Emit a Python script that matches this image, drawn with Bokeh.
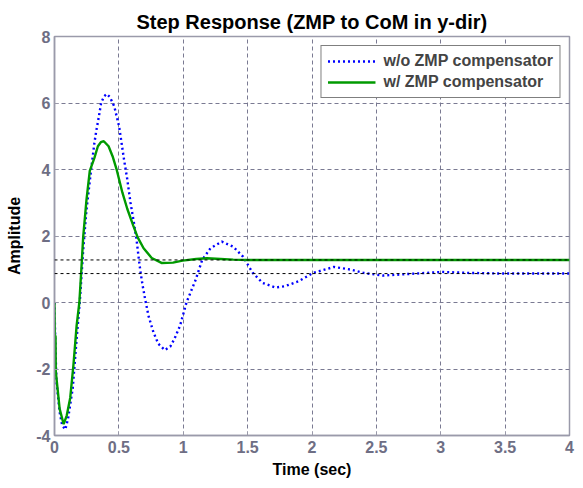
from bokeh.plotting import figure
from bokeh.models import Span, Legend, LegendItem, FixedTicker, Range1d
from bokeh.embed import file_html
from bokeh.resources import INLINE

title_text = "Step Response (ZMP to CoM in y-dir)"
x_label = "Time (sec)"
y_label = "Amplitude"
series_names = ["w/o ZMP compensator", "w/ ZMP compensator"]

# w/o ZMP compensator (blue dotted)
t_wo = [0, 0.005, 0.015, 0.04, 0.06, 0.084, 0.105, 0.142, 0.172, 0.198, 0.223, 0.248,
        0.286, 0.31, 0.324, 0.345, 0.362, 0.385, 0.405, 0.43, 0.464, 0.502, 0.54, 0.565,
        0.59, 0.616, 0.636, 0.654, 0.667, 0.685, 0.704, 0.73, 0.768, 0.806, 0.857, 0.9,
        0.932, 0.975, 1.025, 1.097, 1.147, 1.211, 1.30, 1.388, 1.464, 1.54, 1.616, 1.717,
        1.79, 1.895, 2.01, 2.17, 2.30, 2.40, 2.55, 2.76, 3.01, 3.21, 3.5, 4.0]
y_wo = [0, -1.0, -2.37, -3.3, -3.7, -3.82, -3.5, -2.57, -1.09, 0.1, 1.58, 2.77,
        4.05, 4.8, 5.15, 5.6, 6.0, 6.2, 6.27, 6.18, 5.9, 5.29, 4.3, 3.71,
        3.01, 2.42, 1.93, 1.34, 0.94, 0.5, 0.1, -0.4, -0.89, -1.24, -1.43, -1.32,
        -1.09, -0.7, 0.0, 0.69, 1.28, 1.63, 1.83, 1.68, 1.38, 0.89, 0.59, 0.45,
        0.49, 0.64, 0.89, 1.07, 0.99, 0.89, 0.81, 0.86, 0.92, 0.89, 0.87, 0.87]

# w/ ZMP compensator (green solid)
t_w = [0, 0.003, 0.008, 0.01, 0.04, 0.071, 0.095, 0.122, 0.147, 0.172, 0.193, 0.21,
       0.223, 0.248, 0.274, 0.31, 0.337, 0.36, 0.383, 0.42, 0.451, 0.484, 0.527, 0.565,
       0.611, 0.646, 0.692, 0.755, 0.831, 0.92, 0.995, 1.1, 1.185, 1.29, 1.388, 1.5, 4.0]
y_w = [0, -1.0, -1.0, -2.08, -3.2, -3.66, -3.4, -2.87, -1.88, -0.69, 0.0, 1.09,
       1.98, 3.07, 3.96, 4.35, 4.7, 4.82, 4.85, 4.7, 4.4, 3.98, 3.31, 2.82,
       2.32, 1.96, 1.63, 1.34, 1.19, 1.2, 1.26, 1.31, 1.33, 1.31, 1.29, 1.28, 1.28]

steady_states = [1.28, 0.87]

x_ticks = [0, 0.5, 1, 1.5, 2, 2.5, 3, 3.5, 4]
x_tick_labels = ["0", "0.5", "1", "1.5", "2", "2.5", "3", "3.5", "4"]
y_ticks = [-4, -2, 0, 2, 4, 6, 8]
y_tick_labels = ["-4", "-2", "0", "2", "4", "6", "8"]

FONT = "Liberation Sans"
GRAY = "#6e6e84"
AXIS_GRAY = "#9a9aaa"

p = figure(width=575, height=480, output_backend="svg", toolbar_location=None,
           x_range=Range1d(0, 4), y_range=Range1d(-4, 8),
           min_border_left=54, min_border_right=6, min_border_top=36, min_border_bottom=44)

p.title.text = title_text
p.title.align = "center"
p.title.text_font = FONT
p.title.text_font_size = "20px"
p.title.text_font_style = "bold"
p.title.text_color = "black"
p.title.standoff = 8

p.xaxis.ticker = FixedTicker(ticks=x_ticks)
p.yaxis.ticker = FixedTicker(ticks=y_ticks)
p.xaxis.major_label_overrides = dict(zip(x_ticks, x_tick_labels))
p.yaxis.major_label_overrides = dict(zip(y_ticks, y_tick_labels))
for ax in (p.xaxis, p.yaxis):
    ax.major_label_text_font = FONT
    ax.major_label_text_font_size = "16px"
    ax.major_label_text_font_style = "bold"
    ax.major_label_text_color = GRAY
    ax.axis_line_color = AXIS_GRAY
    ax.axis_line_width = 1.5
    ax.major_tick_in = 4
    ax.major_tick_out = 0
    ax.major_tick_line_color = AXIS_GRAY
    ax.minor_tick_line_color = None
    ax.axis_label_text_font = FONT
    ax.axis_label_text_font_size = "16px"
    ax.axis_label_text_font_style = "bold"
    ax.axis_label_text_color = "black"
p.xaxis.axis_label = x_label
p.yaxis.axis_label = y_label
p.xaxis.major_label_standoff = 5
p.yaxis.major_label_standoff = 4
p.xaxis.axis_label_standoff = 5
p.yaxis.axis_label_standoff = 10

p.outline_line_color = AXIS_GRAY
p.outline_line_width = 1.5
p.grid.grid_line_color = "#7a7a92"
p.grid.grid_line_dash = "4 3"
p.grid.grid_line_width = 1

for s in steady_states:
    p.add_layout(Span(location=s, dimension="width", line_color="black",
                      line_dash="3 3", line_width=1))

r1 = p.line(t_wo, y_wo, line_color="#0000ff", line_width=2.4, line_dash="2 3")
r2 = p.line(t_w, y_w, line_color="#009a00", line_width=2.4)

legend = Legend(items=[LegendItem(label=series_names[0], renderers=[r1]),
                       LegendItem(label=series_names[1], renderers=[r2])],
                location="top_right")
legend.label_text_font = FONT
legend.label_text_font_size = "16px"
legend.label_text_font_style = "bold"
legend.border_line_color = "black"
legend.border_line_width = 1.5
legend.background_fill_color = "white"
legend.background_fill_alpha = 1
legend.glyph_width = 48
legend.glyph_height = 18
legend.label_height = 18
legend.label_standoff = 8
legend.spacing = 3
legend.padding = 6
legend.margin = 9
p.add_layout(legend)

open("out.html", "w").write(file_html(p, INLINE))
